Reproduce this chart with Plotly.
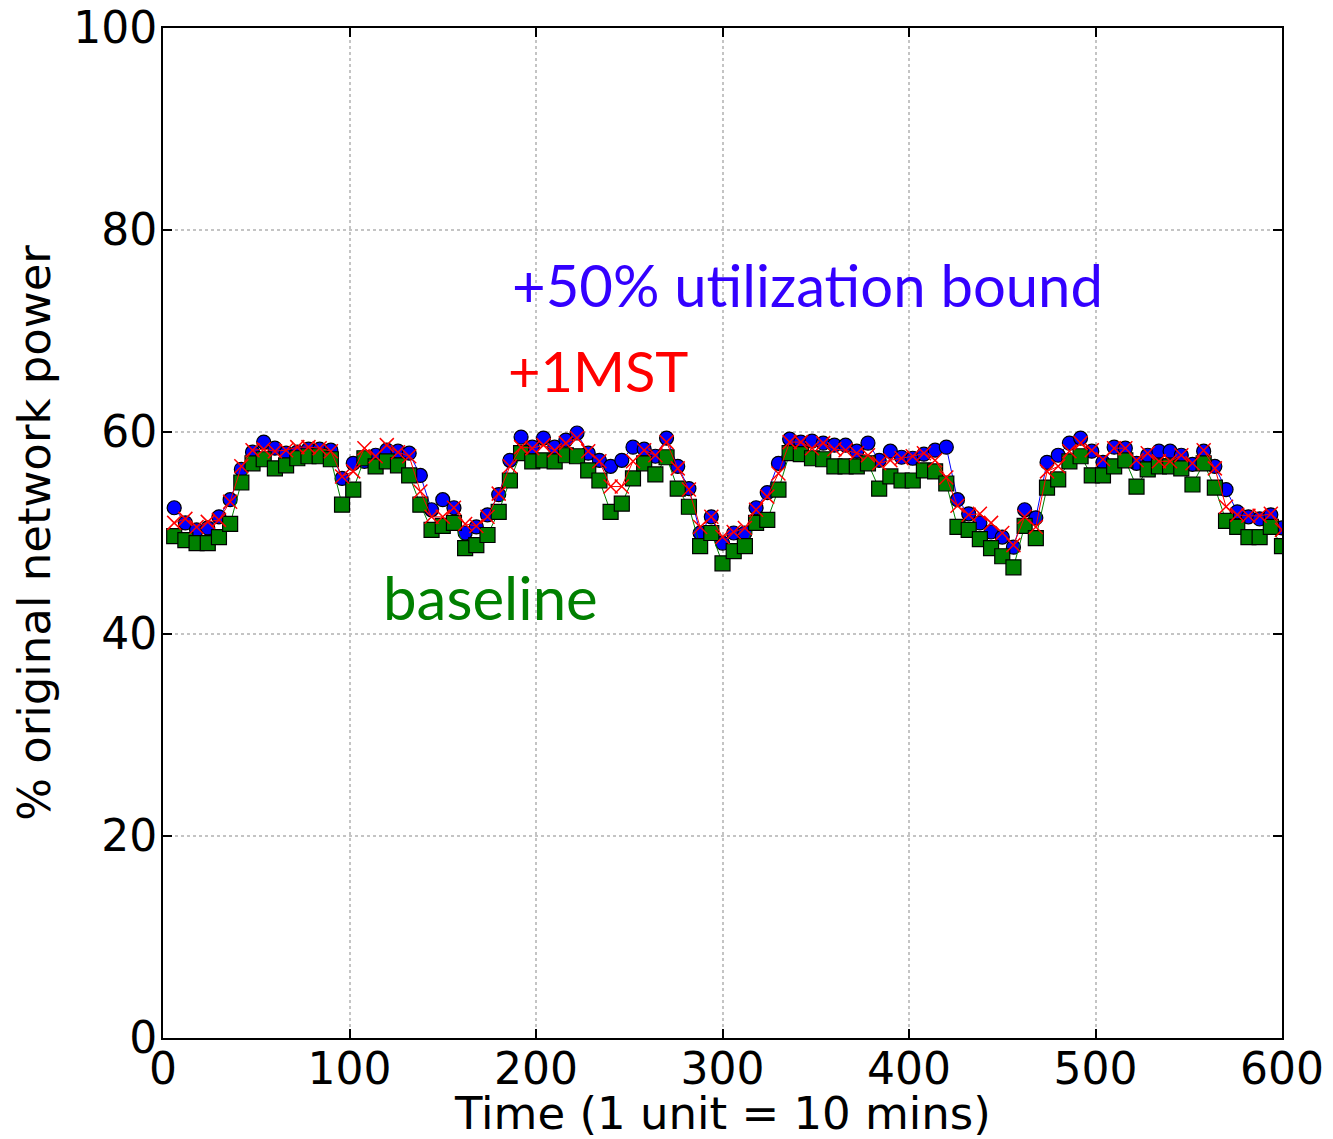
import plotly.graph_objects as go

time = list(range(6, 601, 6))

util_bound = [52.5, 51.0, 50.3, 50.5, 51.6, 53.3, 56.3, 58.0, 59.0, 58.4,
              57.9, 58.0, 58.3, 58.3, 58.2, 55.4, 56.9, 57.1, 57.7, 58.2,
              58.1, 57.9, 55.7, 52.3, 53.3, 52.5, 50.0, 50.6, 51.8, 53.8,
              57.2, 59.5, 58.5, 59.4, 58.5, 59.2, 59.9, 57.9, 57.2, 56.6,
              57.2, 58.5, 58.3, 57.6, 59.4, 56.6, 54.4, 50.0, 51.6, 49.0,
              50.0, 50.0, 52.5, 54.0, 56.9, 59.3, 59.0, 59.1, 58.9, 58.7,
              58.7, 58.1, 58.9, 57.2, 58.1, 57.5, 57.4, 57.8, 58.2, 58.5,
              53.3, 51.9, 51.0, 50.1, 49.6, 48.6, 52.3, 51.5, 57.0, 57.7,
              58.9, 59.4, 58.1, 57.0, 58.5, 58.4, 56.9, 57.7, 58.1, 58.1,
              57.7, 56.8, 58.1, 56.6, 54.3, 52.1, 51.6, 51.4, 51.8, 50.5]

mst = [51.0, 51.4, 50.6, 51.1, 51.3, 53.1, 56.6, 58.2, 58.3, 58.1,
       58.2, 58.5, 58.5, 58.4, 58.1, 55.6, 56.1, 58.4, 57.6, 58.7,
       58.0, 57.6, 54.1, 51.6, 51.6, 52.5, 50.9, 50.7, 51.6, 53.9,
       56.6, 58.5, 58.4, 58.7, 58.2, 58.9, 59.4, 58.1, 57.1, 54.6,
       54.6, 57.1, 58.2, 57.7, 59.0, 56.4, 54.3, 50.6, 51.6, 49.6,
       50.1, 50.5, 52.3, 53.6, 55.9, 59.0, 59.0, 58.4, 58.9, 58.3,
       58.2, 57.9, 57.7, 56.9, 57.2, 57.4, 57.6, 57.9, 57.2, 55.5,
       52.7, 51.8, 51.9, 51.0, 50.0, 48.8, 51.6, 50.6, 56.1, 56.6,
       58.1, 58.9, 58.2, 57.3, 58.4, 58.4, 57.2, 57.9, 57.1, 57.1,
       57.7, 56.9, 58.2, 56.4, 52.6, 51.8, 51.7, 51.7, 51.9, 50.3]

baseline = [49.7, 49.3, 49.0, 49.0, 49.6, 50.9, 55.0, 56.9, 57.3, 56.4,
            56.7, 57.4, 57.6, 57.6, 57.3, 52.8, 54.3, 57.4, 56.6, 57.1,
            56.7, 55.7, 52.8, 50.3, 50.7, 51.0, 48.5, 48.8, 49.8, 52.1,
            55.2, 57.9, 57.1, 57.2, 57.1, 57.7, 57.6, 56.2, 55.2, 52.1,
            52.9, 55.4, 56.9, 55.8, 57.5, 54.4, 52.6, 48.7, 50.0, 47.0,
            48.2, 48.7, 51.0, 51.3, 54.3, 57.9, 57.8, 57.4, 57.3, 56.6,
            56.6, 56.6, 56.9, 54.4, 55.6, 55.2, 55.2, 56.2, 56.1, 54.9,
            50.6, 50.3, 49.4, 48.5, 47.7, 46.6, 50.7, 49.5, 54.5, 55.3,
            57.1, 57.6, 55.7, 55.7, 56.6, 57.2, 54.6, 56.3, 56.6, 56.6,
            56.4, 54.8, 56.9, 54.5, 51.2, 50.6, 49.6, 49.6, 50.6, 48.7]

x_ticks = [0, 100, 200, 300, 400, 500, 600]
y_ticks = [0, 20, 40, 60, 80, 100]
x_title = "Time (1 unit = 10 mins)"
y_title = "% original network power"

label_texts = ["+50% utilization bound", "+1MST", "baseline"]
label_x = [186, 184, 117]
label_y = [74.6, 66.1, 43.7]
label_colors = ["#3300ff", "#ff0000", "#008000"]
label_sizes = [58, 56, 60]

fig = go.Figure()
fig.add_trace(go.Scatter(
    x=time, y=util_bound, mode="lines+markers", name="+50% utilization bound",
    line=dict(color="#0000ff", width=1),
    marker=dict(symbol="circle", size=14, color="#0000ff",
                line=dict(color="black", width=1.2)),
))
fig.add_trace(go.Scatter(
    x=time, y=baseline, mode="lines+markers", name="baseline",
    line=dict(color="#008000", width=1),
    marker=dict(symbol="square", size=15, color="#008000",
                line=dict(color="black", width=1.2)),
))
fig.add_trace(go.Scatter(
    x=time, y=mst, mode="lines+markers", name="+1MST",
    line=dict(color="#ff0000", width=1),
    marker=dict(symbol="x-thin", size=14, color="#ff0000",
                line=dict(color="#ff0000", width=1.5)),
))

for text, xv, yv, col, sz in zip(label_texts, label_x, label_y, label_colors, label_sizes):
    fig.add_annotation(x=xv, y=yv, text=text, showarrow=False,
                       xanchor="left", yanchor="middle",
                       font=dict(family="Lato", size=sz, color=col))

# x-axis title placed as paper annotation so it sits just below the tick labels
fig.add_annotation(x=0.5, y=-0.075, xref="paper", yref="paper", text=x_title,
                   showarrow=False, xanchor="center", yanchor="middle",
                   font=dict(family="DejaVu Sans", size=45, color="black"))

axis_common = dict(
    showline=True, linecolor="black", linewidth=2, mirror="ticks",
    ticks="inside", ticklen=9, tickwidth=1.5, tickcolor="black",
    showgrid=True, gridcolor="#c4c4c4", gridwidth=2, griddash="dot",
    zeroline=False, ticklabeloverflow="allow", automargin=False,
    tickfont=dict(family="DejaVu Sans", size=44, color="black"),
)

fig.update_xaxes(range=[0, 600], tickvals=x_ticks, ticklabelstandoff=-9,
                 **axis_common)
fig.update_yaxes(range=[0, 100], tickvals=y_ticks, ticklabelstandoff=-5,
                 title=dict(text=y_title, standoff=30,
                            font=dict(family="DejaVu Sans", size=45, color="black")),
                 **axis_common)

fig.update_layout(
    width=1333, height=1139,
    margin=dict(l=155, r=59, t=20, b=109),
    paper_bgcolor="white", plot_bgcolor="white",
    showlegend=False,
)

fig.write_html("out.html")
